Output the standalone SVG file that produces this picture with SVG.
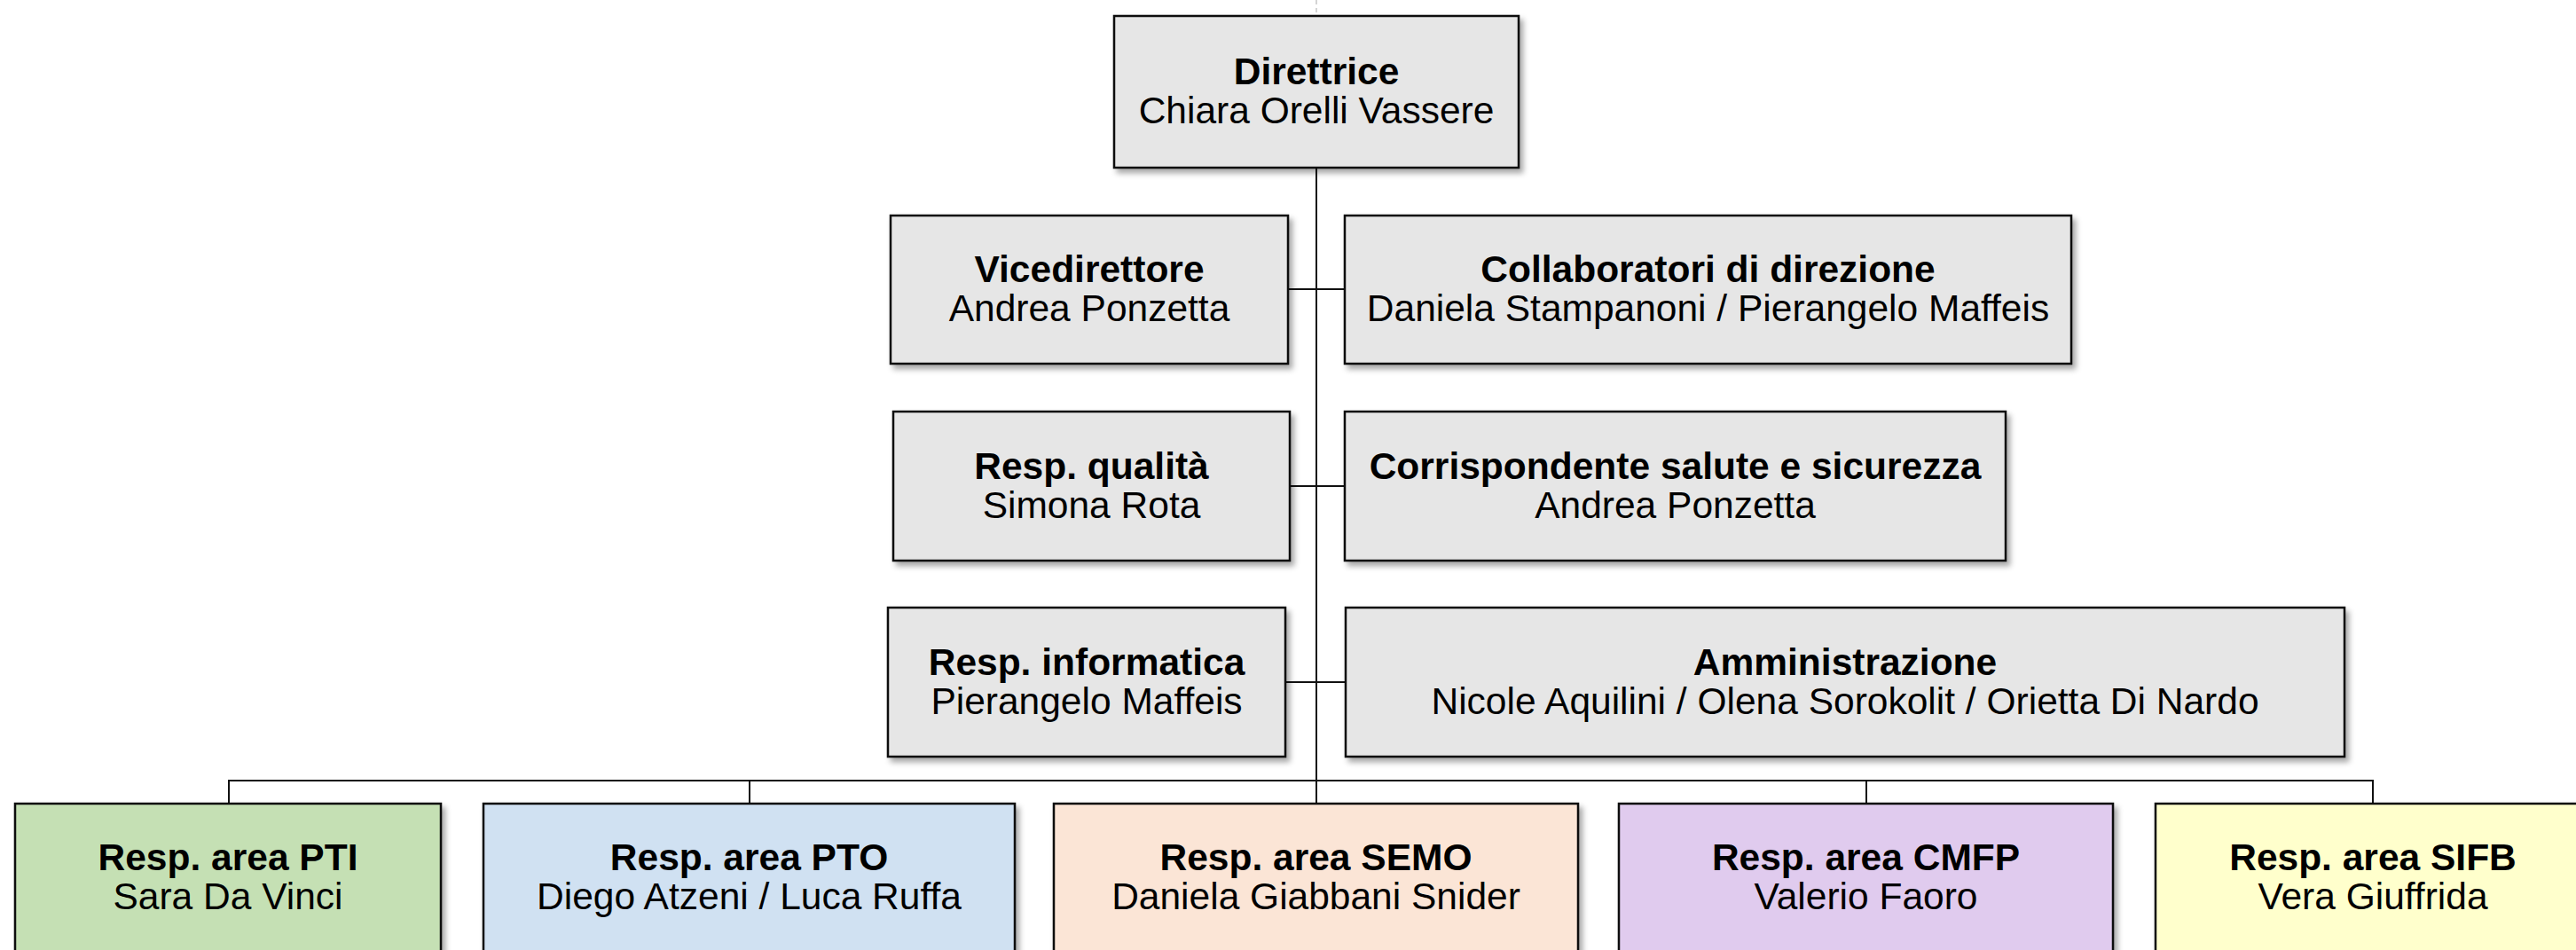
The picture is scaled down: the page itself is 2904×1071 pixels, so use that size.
<svg xmlns="http://www.w3.org/2000/svg" width="2904" height="1071" viewBox="0 0 2904 1071">
<defs>
<filter id="sh" x="-5%" y="-5%" width="115%" height="125%">
<feDropShadow dx="4" dy="5" stdDeviation="3" flood-color="#000" flood-opacity="0.35"/>
</filter>
<style>
.box{stroke:#111;stroke-width:2.5;filter:url(#sh)}
.g{fill:#e6e6e6}
.t{font-family:"Liberation Sans",Arial,sans-serif;font-size:42.5px;fill:#000;text-anchor:middle}
.b{font-weight:bold}
.ln{stroke:#111;stroke-width:2;fill:none}
</style>
</defs>
<rect width="2904" height="1071" fill="#fff"/>
<g id="connectors">
<line x1="1484" y1="0" x2="1484" y2="17" stroke="#d4d4d4" stroke-width="2" stroke-dasharray="5,4"/>
<line class="ln" x1="1484" y1="189" x2="1484" y2="906"/>
<line class="ln" x1="1452" y1="326" x2="1516" y2="326"/>
<line class="ln" x1="1454" y1="548" x2="1516" y2="548"/>
<line class="ln" x1="1449" y1="769" x2="1517" y2="769"/>
<polyline class="ln" points="258,906 258,880 2675,880 2675,906"/>
<line class="ln" x1="845" y1="880" x2="845" y2="906"/>
<line class="ln" x1="2104" y1="880" x2="2104" y2="906"/>
</g>
<g id="direttrice">
<rect class="box g" x="1256" y="18" width="456" height="171"/>
<text class="t b" x="1484" y="95">Direttrice</text>
<text class="t" x="1484" y="139">Chiara Orelli Vassere</text>
</g>
<g id="vicedirettore">
<rect class="box g" x="1004" y="243" width="448" height="167"/>
<text class="t b" x="1228" y="318">Vicedirettore</text>
<text class="t" x="1228" y="362">Andrea Ponzetta</text>
</g>
<g id="collaboratori">
<rect class="box g" x="1516" y="243" width="819" height="167"/>
<text class="t b" x="1925.5" y="318">Collaboratori di direzione</text>
<text class="t" x="1925.5" y="362">Daniela Stampanoni / Pierangelo Maffeis</text>
</g>
<g id="qualita">
<rect class="box g" x="1007" y="464" width="447" height="168"/>
<text class="t b" x="1230.5" y="540">Resp. qualità</text>
<text class="t" x="1230.5" y="584">Simona Rota</text>
</g>
<g id="sicurezza">
<rect class="box g" x="1516" y="464" width="745" height="168"/>
<text class="t b" x="1888.5" y="540">Corrispondente salute e sicurezza</text>
<text class="t" x="1888.5" y="584">Andrea Ponzetta</text>
</g>
<g id="informatica">
<rect class="box g" x="1001" y="685" width="448" height="168"/>
<text class="t b" x="1225" y="761">Resp. informatica</text>
<text class="t" x="1225" y="805">Pierangelo Maffeis</text>
</g>
<g id="amministrazione">
<rect class="box g" x="1517" y="685" width="1126" height="168"/>
<text class="t b" x="2080" y="761">Amministrazione</text>
<text class="t" x="2080" y="805">Nicole Aquilini / Olena Sorokolit / Orietta Di Nardo</text>
</g>
<g id="pti">
<rect class="box" fill="#c5e0b4" x="17" y="906" width="480" height="170"/>
<text class="t b" x="257" y="981">Resp. area PTI</text>
<text class="t" x="257" y="1025">Sara Da Vinci</text>
</g>
<g id="pto">
<rect class="box" fill="#d0e1f2" x="545" y="906" width="599" height="170"/>
<text class="t b" x="844.5" y="981">Resp. area PTO</text>
<text class="t" x="844.5" y="1025">Diego Atzeni / Luca Ruffa</text>
</g>
<g id="semo">
<rect class="box" fill="#fbe5d6" x="1188" y="906" width="591" height="170"/>
<text class="t b" x="1483.5" y="981">Resp. area SEMO</text>
<text class="t" x="1483.5" y="1025">Daniela Giabbani Snider</text>
</g>
<g id="cmfp">
<rect class="box" fill="#e0cbee" x="1825" y="906" width="557" height="170"/>
<text class="t b" x="2103.5" y="981">Resp. area CMFP</text>
<text class="t" x="2103.5" y="1025">Valerio Faoro</text>
</g>
<g id="sifb">
<rect class="box" fill="#ffffcc" x="2430" y="906" width="490" height="170"/>
<text class="t b" x="2675" y="981">Resp. area SIFB</text>
<text class="t" x="2675" y="1025">Vera Giuffrida</text>
</g>
</svg>
